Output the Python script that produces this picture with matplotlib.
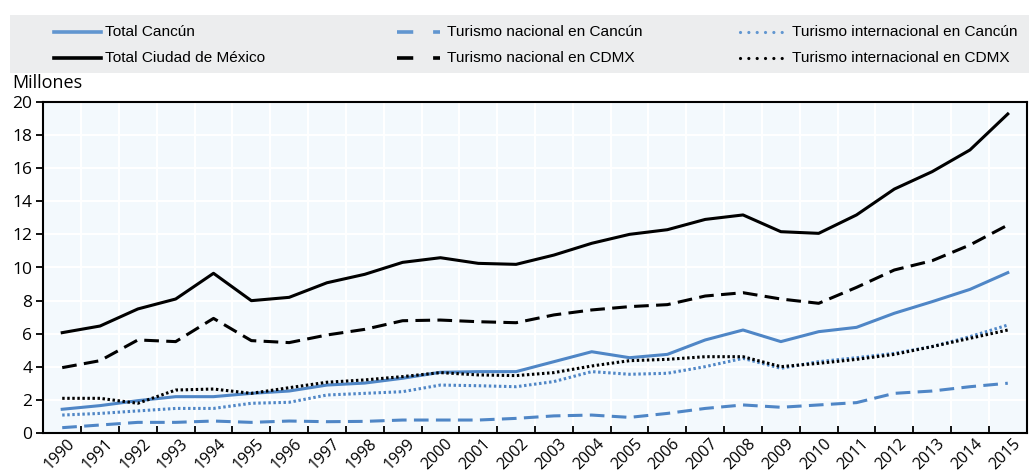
import matplotlib
matplotlib.use("Agg")
import matplotlib.pyplot as plt
from matplotlib.lines import Line2D
from matplotlib.patches import Rectangle
import numpy as np

years = [str(y) for y in range(1990, 2016)]

total_cancun = [1.45, 1.67, 1.97, 2.21, 2.21, 2.41, 2.55, 2.91, 3.03, 3.32, 3.68, 3.72, 3.72, 4.32, 4.92, 4.56, 4.76,
                5.63, 6.23, 5.53, 6.13, 6.39, 7.24, 7.94, 8.68, 9.69]
total_cdmx = [6.07, 6.47, 7.50, 8.10, 9.65, 8.00, 8.20, 9.08, 9.59, 10.31, 10.59, 10.25, 10.19, 10.75, 11.46, 12.00, 12.28,
              12.90, 13.17, 12.16, 12.06, 13.17, 14.73, 15.78, 17.09, 19.26]
nac_cancun = [0.34, 0.50, 0.66, 0.66, 0.74, 0.66, 0.74, 0.70, 0.72, 0.80, 0.80, 0.80, 0.90, 1.05, 1.10, 0.96, 1.20,
              1.50, 1.71, 1.57, 1.71, 1.85, 2.41, 2.55, 2.81, 3.02]
nac_cdmx = [3.96, 4.38, 5.63, 5.53, 6.93, 5.59, 5.47, 5.93, 6.27, 6.79, 6.83, 6.73, 6.67, 7.14, 7.44, 7.64, 7.76,
            8.28, 8.48, 8.10, 7.84, 8.80, 9.85, 10.41, 11.36, 12.56]
int_cancun = [1.10, 1.20, 1.35, 1.50, 1.50, 1.81, 1.87, 2.31, 2.41, 2.51, 2.91, 2.87, 2.81, 3.12, 3.72, 3.56, 3.62,
              4.02, 4.52, 3.92, 4.32, 4.56, 4.82, 5.23, 5.83, 6.53]
int_cdmx = [2.11, 2.11, 1.81, 2.61, 2.67, 2.41, 2.75, 3.08, 3.22, 3.42, 3.66, 3.52, 3.48, 3.66, 4.06, 4.38, 4.46,
            4.62, 4.62, 4.02, 4.22, 4.46, 4.76, 5.23, 5.73, 6.23]

labels = ["Total Cancún", "Turismo nacional en Cancún", "Turismo internacional en Cancún",
          "Total Ciudad de México", "Turismo nacional en CDMX", "Turismo internacional en CDMX"]

BLUE = "#4f86c6"
BLUE_LEG = "#6196d0"
BLACK = "#000000"
W, H = 1029, 473

fig = plt.figure(figsize=(W / 100, H / 100), dpi=100)
ax = fig.add_axes([43.3 / W, 1 - 433.3 / H, 983.4 / W, 331.6 / H])
ax.set_facecolor("#f3f9fd")

LW = 2.2
DASH = (0, (4.8, 2.4))
DOT = (0, (0.8, 0.85))
x = np.arange(len(years))
series = [
    (total_cancun, BLUE, "-"),
    (nac_cancun, BLUE, DASH),
    (int_cancun, BLUE, DOT),
    (total_cdmx, BLACK, "-"),
    (nac_cdmx, BLACK, DASH),
    (int_cdmx, BLACK, DOT),
]
for i in [1, 2, 0, 5, 4, 3]:
    vals, c, ls = series[i]
    ax.plot(x, vals, color=c, linestyle=ls, linewidth=LW, dash_capstyle="butt", solid_joinstyle="round")

ax.set_xlim(-0.5, len(years) - 0.5)
ax.set_ylim(0, 20)
ax.set_yticks(np.arange(0, 21, 2))
ax.set_xticks(x + 0.12)
ax.set_xticklabels(years, rotation=45, ha="right", rotation_mode="anchor", fontsize=11.5,
                   family=["Open Sans", "DejaVu Sans"])
ax.set_xticks(np.arange(-0.5, len(years), 1), minor=True)
ax.tick_params(axis="x", which="major", length=0, pad=2)
ax.tick_params(axis="x", which="minor", direction="in", length=5, width=1.3)
ax.tick_params(axis="y", direction="out", length=5, width=1.3, labelsize=12.5, pad=3)
for lab in ax.get_yticklabels():
    lab.set_family(["Open Sans", "DejaVu Sans"])
ax.grid(True, which="minor", axis="x", color="white", linewidth=1.5)
ax.grid(True, which="major", axis="y", color="white", linewidth=1.5)
ax.set_axisbelow(True)
for sp in ax.spines.values():
    sp.set_linewidth(1.5)
    sp.set_color("black")

fig.text(12 / W, 1 - 92 / H, "Millones", fontsize=13, family=["Open Sans", "DejaVu Sans"], va="bottom")

# legend
fig.patches.append(Rectangle((10 / W, 1 - 73 / H), 1019 / W, 58 / H, transform=fig.transFigure,
                             facecolor="#ecedee", edgecolor="none", zorder=0))
leg_cols = [(54, 101, 105), (397, 440, 447), (740, 786, 792)]
leg_rows = [32, 58]
leg_order = [(0, 0, 0), (3, 0, 1), (1, 1, 0), (4, 1, 1), (2, 2, 0), (5, 2, 1)]
for si, ci, ri in leg_order:
    x0, x1, xt = leg_cols[ci]
    yy = 1 - leg_rows[ri] / H
    _, c, ls = series[si]
    col = BLUE_LEG if c == BLUE else c
    if ls == DASH:
        ls_l, cap, lw = (0, (4.5, 5.5)), "butt", 2.6
    elif ls == DOT:
        ls_l, cap, lw = (0, (0.01, 2.6)), "round", 2.3
    else:
        ls_l, cap, lw = "-", "butt", 2.6
    fig.add_artist(Line2D([x0 / W, x1 / W], [yy, yy], transform=fig.transFigure, color=col,
                          linestyle=ls_l, linewidth=lw, dash_capstyle=cap))
    fig.text(xt / W, yy, labels[si], fontsize=11.1, family=["Liberation Sans", "DejaVu Sans"],
             va="center", ha="left")

fig.savefig("out.png", dpi=100)
